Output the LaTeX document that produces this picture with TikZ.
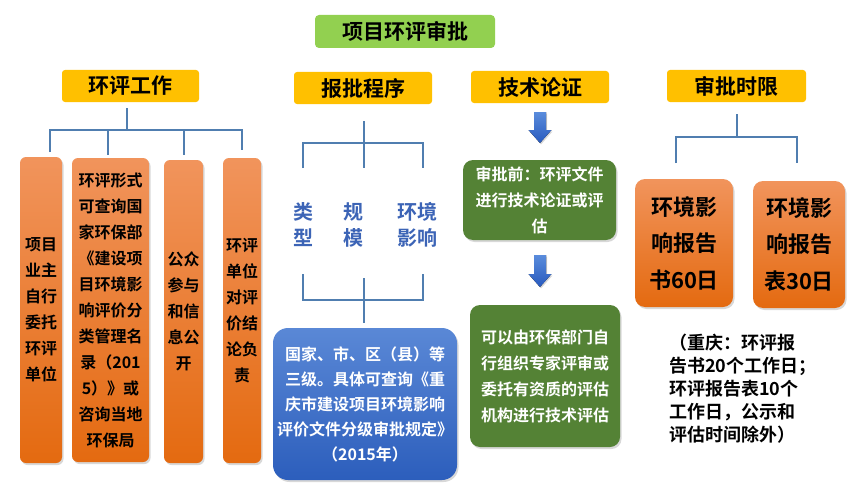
\documentclass[tikz,border=0pt]{standalone}
\usepackage{fontspec}
\setmainfont{Noto Sans CJK SC}[BoldFont={Noto Sans CJK SC Bold}]
\usetikzlibrary{calc, shadows}
\definecolor{titlegreen}{RGB}{146,208,80}
\definecolor{headyellow}{RGB}{255,192,0}
\definecolor{treeblue}{RGB}{80,126,176}
\definecolor{orangetop}{RGB}{241,148,92}
\definecolor{orangebot}{RGB}{228,106,16}
\definecolor{bluetop}{RGB}{90,136,214}
\definecolor{bluebot}{RGB}{44,94,188}
\definecolor{boxgreen}{RGB}{84,130,53}
\definecolor{labelblue}{RGB}{60,100,182}
\definecolor{arrowtop}{RGB}{90,140,220}
\definecolor{arrowbot}{RGB}{40,90,190}
\newcommand{\blockarrow}[3]{%
  \fill[top color=arrowtop, bottom color=arrowbot, drop shadow={opacity=.3, shadow xshift=1pt, shadow yshift=-1.5pt}]
    (#1,#2) ++(-6,0) -- ++(12,0) -- ++(0,#3) -- ++(5.5,0) -- ++(-11.5,13) -- ++(-11.5,-13) -- ++(5.5,0) -- cycle;}
\tikzset{
  headbox/.style={fill=headyellow, rounded corners=3pt, minimum width=137, minimum height=32,
    font=\fontsize{21}{24}\selectfont\bfseries},
  tallbox/.style={top color=orangetop, bottom color=orangebot, rounded corners=6pt, inner sep=0, align=center,
    drop shadow={opacity=.3, shadow xshift=1.5pt, shadow yshift=-2pt}, font=\fontsize{16}{26}\selectfont\bfseries},
  daybox/.style={tallbox, rounded corners=10pt, font=\fontsize{22}{36.5}\selectfont\bfseries},
  greenbox/.style={fill=boxgreen, text=white, rounded corners=10pt, inner sep=0, align=center,
    drop shadow={opacity=.3, shadow xshift=1.5pt, shadow yshift=-2pt}, font=\fontsize{16}{26}\selectfont\bfseries},
  levelbox/.style={top color=bluetop, bottom color=bluebot, text=white, rounded corners=15pt, inner sep=0, align=center,
    drop shadow={opacity=.3, shadow xshift=1.5pt, shadow yshift=-2pt}, font=\fontsize{16}{25}\selectfont\bfseries},
  factor/.style={text=labelblue, align=center, inner sep=0, font=\fontsize{20}{26}\selectfont\bfseries},
  tree/.style={draw=treeblue, line width=1.8pt}
}
\begin{document}
\begin{tikzpicture}[x=1pt, y=-1pt]
  \useasboundingbox[fill=white] (0,0) rectangle (849,495);
  % title and headers
  \node[fill=titlegreen, rounded corners=4pt, minimum width=180, minimum height=33,
    font=\fontsize{21}{24}\selectfont\bfseries] (title) at (405,31.5) {项目环评审批};
  \node[headbox] (work) at (130.5,86) {环评工作};
  \node[headbox, minimum width=138] (report) at (363,88) {报批程序};
  \node[headbox, minimum width=138] (tech) at (540,87) {技术论证};
  \node[headbox, minimum width=139] (time) at (736.5,86) {审批时限};

  % 环评工作
  \draw[tree] (127,108) -- (127,130);
  \draw[tree] (50,152) |- (242,130) -- (242,150);
  \foreach \xx in {108, 184}
    \draw[tree] (\xx,130) -- (\xx,155);
  \node[tallbox, minimum width=42, minimum height=306] (w1) at (41,310)
    {项目\\业主\\自行\\委托\\环评\\单位};
  \node[tallbox, minimum width=77, minimum height=304] (w2) at (110.5,310)
    {环评形式\\可查询国\\家环保部\\《建设项\\目环境影\\响评价分\\类管理名\\录（201\\5）》或\\咨询当地\\环保局};
  \node[tallbox, minimum width=39, minimum height=303] (w3) at (183.5,311.5)
    {公众\\参与\\和信\\息公\\开};
  \node[tallbox, minimum width=38, minimum height=305] (w4) at (242,310.5)
    {环评\\单位\\对评\\价结\\论负\\责};

  % 报批程序
  \draw[tree] (364,121) -- (364,168);
  \draw[tree] (303,168) |- (423,143) -- (423,168);
  \node[factor] (kind) at (303,225) {类\\型};
  \node[factor] (scale) at (353,225) {规\\模};
  \node[factor] (env) at (417,225) {环境\\影响};
  \draw[tree] (303,274) |- (423,300) -- (423,274);
  \draw[tree] (364,278) -- (364,323);
  \node[levelbox, minimum width=184, minimum height=152] (level) at (365,404)
    {国家、市、区（县）等\\三级。具体可查询《重\\庆市建设项目环境影响\\评价文件分级审批规定》\\（2015年）};

  % 技术论证
  \blockarrow{540}{112}{18}
  \node[greenbox, minimum width=153, minimum height=80] (before) at (539.5,200)
    {审批前：环评文件\\进行技术论证或评\\估};
  \blockarrow{540}{255}{19}
  \node[greenbox, minimum width=150, minimum height=142] (expert) at (545,376)
    {可以由环保部门自\\行组织专家评审或\\委托有资质的评估\\机构进行技术评估};

  % 审批时限
  \draw[tree] (737,114) -- (737,137);
  \draw[tree] (676,163) |- (797,137) -- (797,163);
  \node[daybox, minimum width=98, minimum height=128] (book) at (684,243)
    {环境影\\响报告\\书60日};
  \node[daybox, minimum width=92, minimum height=127] (form) at (799,244.5)
    {环境影\\响报告\\表30日};
  \node[anchor=west, align=left, inner sep=0, font=\fontsize{18}{23}\selectfont\bfseries] (note) at (669,389)
    {（重庆：环评报\\告书20个工作日；\\环评报告表10个\\工作日，公示和\\评估时间除外）};
\end{tikzpicture}
\end{document}
